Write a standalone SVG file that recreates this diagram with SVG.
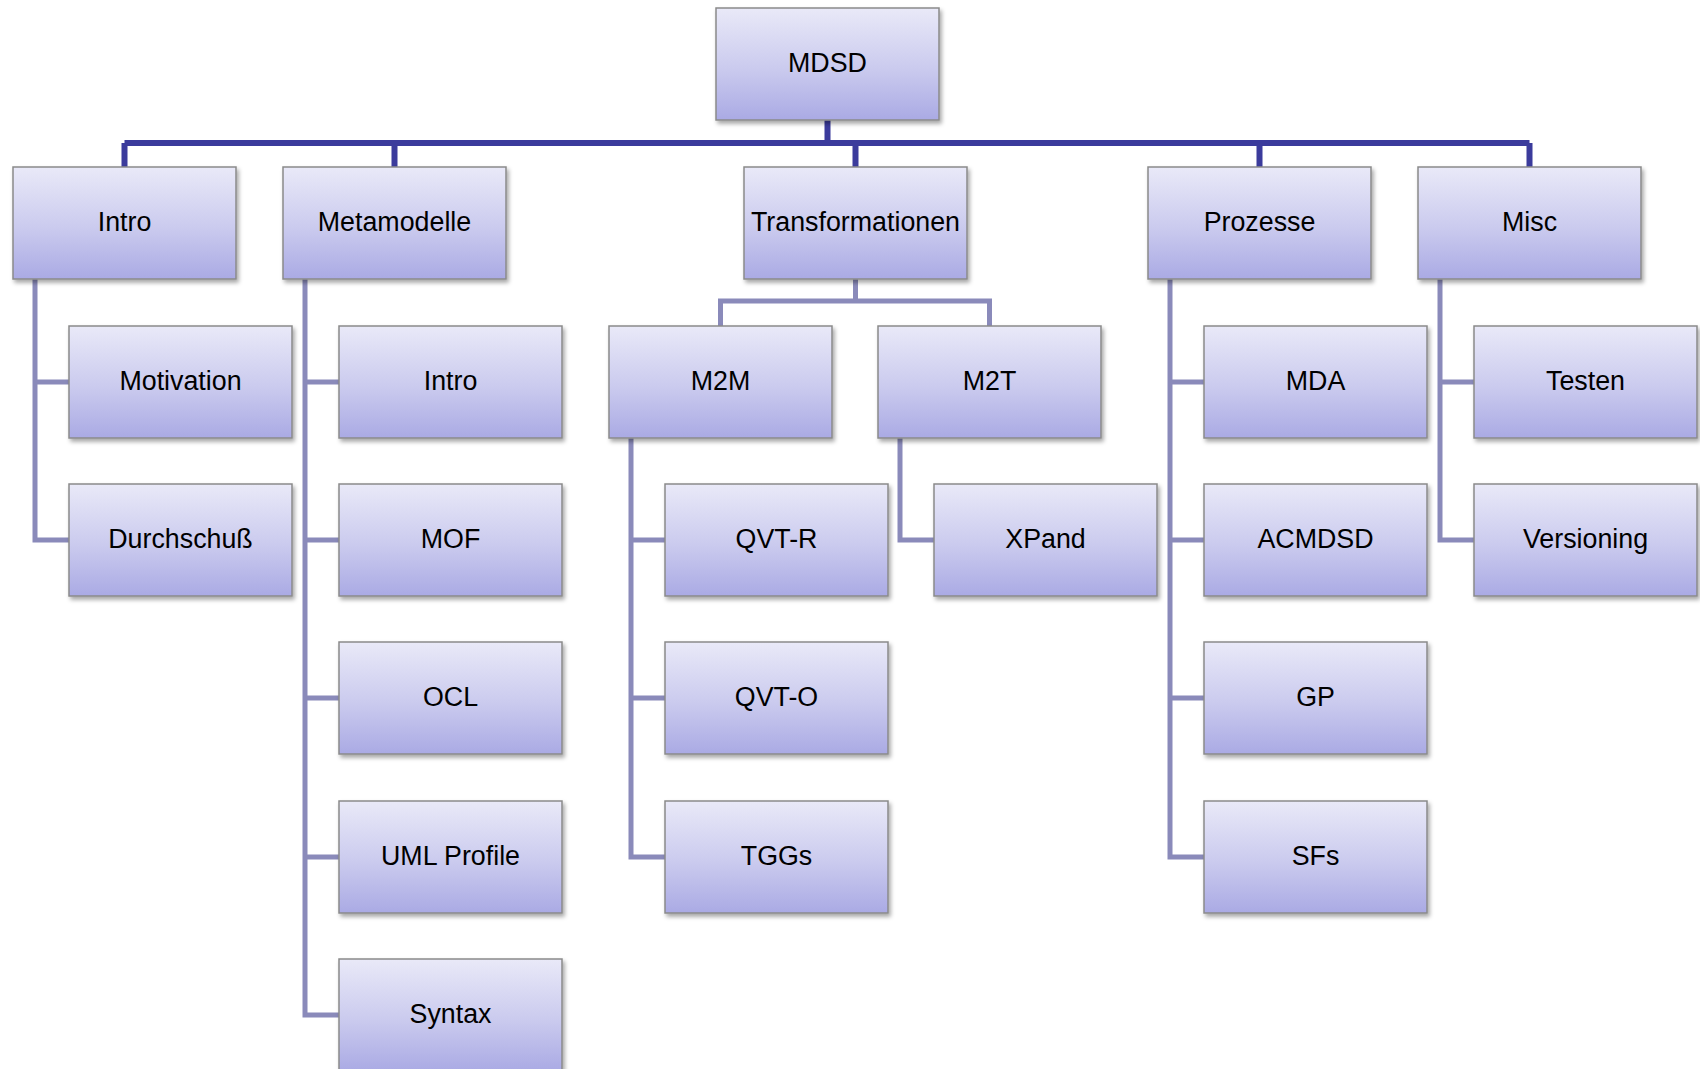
<svg xmlns="http://www.w3.org/2000/svg" width="1700" height="1069" viewBox="0 0 1700 1069">
<style>
.box{fill:url(#g);stroke:#8a8a8a;stroke-width:1.5;filter:url(#sh)}
.t{font-family:"Liberation Sans",Arial,sans-serif;font-size:26.8px;fill:#000;text-anchor:middle}
.main{fill:none;stroke:#3b3b9c;stroke-width:6}
.sub{fill:none;stroke:#8a8aba;stroke-width:5}
</style>
<defs>
<linearGradient id="g" x1="0" y1="0" x2="0" y2="1">
<stop offset="0" stop-color="#e9e9f8"/>
<stop offset="0.55" stop-color="#cacaee"/>
<stop offset="1" stop-color="#aaaae4"/>
</linearGradient>
<filter id="sh" x="-10%" y="-10%" width="125%" height="130%">
<feDropShadow dx="2" dy="3" stdDeviation="2" flood-color="#000" flood-opacity="0.35"/>
</filter>
</defs>
<rect width="1700" height="1069" fill="#fff"/>
<g id="connectors">
<path class="main" d="M827.5 120 V143 M124.5 143 H1529.5 M124.5 143 V167 M394.5 143 V167 M855.5 143 V167 M1259.5 143 V167 M1529.5 143 V167"/>
<path class="sub" d="M855.5 279 V301 M720.5 326 V301 H989.5 V326"/>
<path class="sub" d="M35 279 V540 H69 M35 382 H69"/>
<path class="sub" d="M305 279 V1015 H339 M305 382 H339 M305 540 H339 M305 698 H339 M305 857 H339"/>
<path class="sub" d="M631 438 V857 H665 M631 540 H665 M631 698 H665"/>
<path class="sub" d="M900 438 V540 H934"/>
<path class="sub" d="M1170 279 V857 H1204 M1170 382 H1204 M1170 540 H1204 M1170 698 H1204"/>
<path class="sub" d="M1440 279 V540 H1474 M1440 382 H1474"/>
</g>
<g id="n-mdsd"><rect class="box" x="716" y="8" width="223" height="112"/><text class="t" x="827.5" y="72">MDSD</text></g>
<g id="n-intro"><rect class="box" x="13" y="167" width="223" height="112"/><text class="t" x="124.5" y="231">Intro</text></g>
<g id="n-metamodelle"><rect class="box" x="283" y="167" width="223" height="112"/><text class="t" x="394.5" y="231">Metamodelle</text></g>
<g id="n-transformationen"><rect class="box" x="744" y="167" width="223" height="112"/><text class="t" x="855.5" y="231">Transformationen</text></g>
<g id="n-prozesse"><rect class="box" x="1148" y="167" width="223" height="112"/><text class="t" x="1259.5" y="231">Prozesse</text></g>
<g id="n-misc"><rect class="box" x="1418" y="167" width="223" height="112"/><text class="t" x="1529.5" y="231">Misc</text></g>
<g id="n-motivation"><rect class="box" x="69" y="326" width="223" height="112"/><text class="t" x="180.5" y="390">Motivation</text></g>
<g id="n-durchschuss"><rect class="box" x="69" y="484" width="223" height="112"/><text class="t" x="180.5" y="548">Durchschuß</text></g>
<g id="n-meta-intro"><rect class="box" x="339" y="326" width="223" height="112"/><text class="t" x="450.5" y="390">Intro</text></g>
<g id="n-mof"><rect class="box" x="339" y="484" width="223" height="112"/><text class="t" x="450.5" y="548">MOF</text></g>
<g id="n-ocl"><rect class="box" x="339" y="642" width="223" height="112"/><text class="t" x="450.5" y="706">OCL</text></g>
<g id="n-uml"><rect class="box" x="339" y="801" width="223" height="112"/><text class="t" x="450.5" y="865">UML Profile</text></g>
<g id="n-syntax"><rect class="box" x="339" y="959" width="223" height="112"/><text class="t" x="450.5" y="1023">Syntax</text></g>
<g id="n-m2m"><rect class="box" x="609" y="326" width="223" height="112"/><text class="t" x="720.5" y="390">M2M</text></g>
<g id="n-m2t"><rect class="box" x="878" y="326" width="223" height="112"/><text class="t" x="989.5" y="390">M2T</text></g>
<g id="n-qvtr"><rect class="box" x="665" y="484" width="223" height="112"/><text class="t" x="776.5" y="548">QVT-R</text></g>
<g id="n-qvto"><rect class="box" x="665" y="642" width="223" height="112"/><text class="t" x="776.5" y="706">QVT-O</text></g>
<g id="n-tggs"><rect class="box" x="665" y="801" width="223" height="112"/><text class="t" x="776.5" y="865">TGGs</text></g>
<g id="n-xpand"><rect class="box" x="934" y="484" width="223" height="112"/><text class="t" x="1045.5" y="548">XPand</text></g>
<g id="n-mda"><rect class="box" x="1204" y="326" width="223" height="112"/><text class="t" x="1315.5" y="390">MDA</text></g>
<g id="n-acmdsd"><rect class="box" x="1204" y="484" width="223" height="112"/><text class="t" x="1315.5" y="548">ACMDSD</text></g>
<g id="n-gp"><rect class="box" x="1204" y="642" width="223" height="112"/><text class="t" x="1315.5" y="706">GP</text></g>
<g id="n-sfs"><rect class="box" x="1204" y="801" width="223" height="112"/><text class="t" x="1315.5" y="865">SFs</text></g>
<g id="n-testen"><rect class="box" x="1474" y="326" width="223" height="112"/><text class="t" x="1585.5" y="390">Testen</text></g>
<g id="n-versioning"><rect class="box" x="1474" y="484" width="223" height="112"/><text class="t" x="1585.5" y="548">Versioning</text></g>
</svg>
